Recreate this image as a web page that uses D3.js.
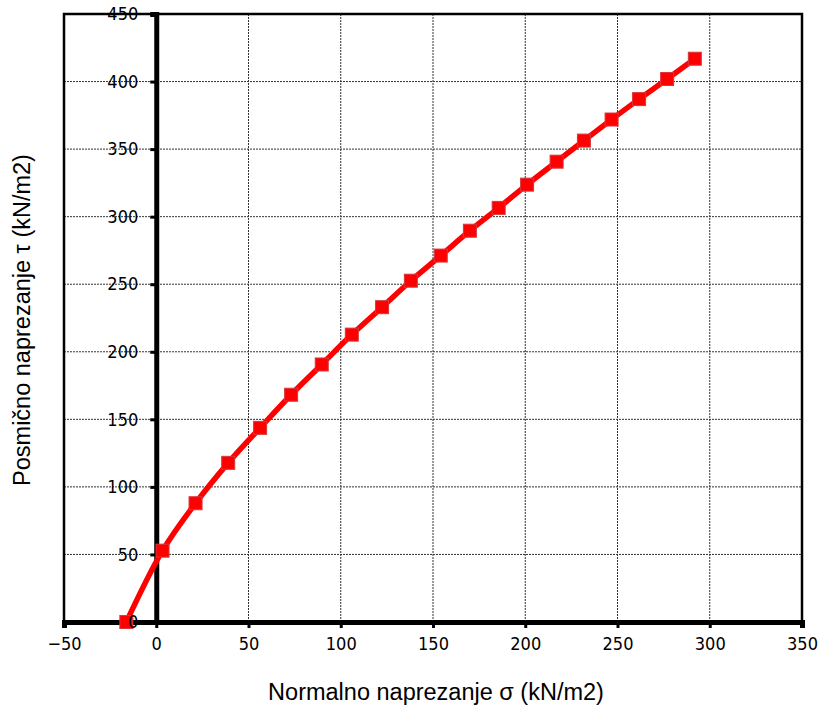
<!DOCTYPE html>
<html>
<head>
<meta charset="utf-8">
<script src="https://cdn.jsdelivr.net/npm/d3@7"></script>
<style>
  body { margin: 0; background: #fff; }
  svg { display: block; }
  .tk text { font-family: "DejaVu Sans Condensed", "DejaVu Sans", sans-serif; font-size: 18px; font-stretch: condensed; fill: #000; }
</style>
</head>
<body>
<svg id="chart" width="818" height="711"></svg>
<script>
// normal stress (kN/m2) vs shear stress (kN/m2)
const sigma = [-16.2, 3.4, 21.3, 39, 56.3, 73.1, 89.7, 106, 122.4, 138, 154.2, 170, 185.6, 201, 217, 231.8, 246.8, 261.7, 276.9, 291.9];
const tau = [0, 52.8, 87.9, 117.8, 143.7, 168.2, 190.6, 212.7, 233, 252.6, 271.2, 289.6, 306.5, 323.7, 340.7, 356.3, 371.9, 387, 401.9, 416.9];
const xTicks = [-50, 0, 50, 100, 150, 200, 250, 300, 350];
const yTicks = [0, 50, 100, 150, 200, 250, 300, 350, 400, 450];

function drawChart(){
    const svg = d3.select('#chart'),
    margin = {top: 14, right: 16, bottom: 89, left: 64},
    width = +svg.attr('width') - margin.left - margin.right,
    height = +svg.attr('height') - margin.top - margin.bottom;

    const x = d3.scaleLinear().domain([-50, 350]).range([0, width]);
    const y = d3.scaleLinear().domain([0, 450]).range([height, 0]);

    const g = svg.append('g')
    .attr('transform', `translate(${margin.left}, ${margin.top})`);

    // dotted grid
    g.append('g')
    .selectAll('line')
    .data(xTicks.filter(d => d !== -50 && d !== 0 && d !== 350))
    .enter()
    .append('line')
    .attr('x1', d => x(d)).attr('x2', d => x(d))
    .attr('y1', 0).attr('y2', height)
    .attr('stroke', '#333')
    .attr('stroke-width', 1)
    .attr('stroke-dasharray', '2,1');

    g.append('g')
    .selectAll('line')
    .data(yTicks.filter(d => d !== 0 && d !== 450))
    .enter()
    .append('line')
    .attr('x1', 0).attr('x2', width)
    .attr('y1', d => y(d)).attr('y2', d => y(d))
    .attr('stroke', '#333')
    .attr('stroke-width', 1)
    .attr('stroke-dasharray', '2,1');

    // frame
    g.append('rect')
    .attr('x', 0).attr('y', 0)
    .attr('width', width).attr('height', height)
    .attr('fill', 'none')
    .attr('stroke', '#000')
    .attr('stroke-width', 2.5);

    // x axis at y = 0
    const xAxis = g.append('g')
    .attr('class', 'tk')
    .attr('transform', `translate(0, ${y(0)})`)
    .call(d3.axisBottom(x).tickValues(xTicks).tickSize(6).tickPadding(9).tickFormat(d3.format('d')));
    xAxis.select('.domain').attr('stroke-width', 5);
    xAxis.selectAll('.tick line').attr('stroke-width', 3);

    // y axis at x = 0 (line and ticks; labels go on top later)
    const yAxis = g.append('g')
    .attr('transform', `translate(${x(0)}, 0)`)
    .call(d3.axisLeft(y).tickValues(yTicks).tickSize(6).tickFormat(''));
    yAxis.select('.domain').attr('stroke-width', 5);
    yAxis.selectAll('.tick line').attr('stroke-width', 3);

    // the data line
    const pts = sigma.map((s, i) => [s, tau[i]]);
    g.append('path')
    .datum(pts)
    .attr('fill', 'none')
    .attr('stroke', '#ff0000')
    .attr('stroke-width', 5.5)
    .attr('stroke-linejoin', 'round')
    .attr('d', d3.line().curve(d3.curveCatmullRom).x(d => x(d[0])).y(d => y(d[1])));

    g.append('g')
    .selectAll('rect')
    .data(pts)
    .enter()
    .append('rect')
    .attr('x', d => x(d[0]) - 6.5)
    .attr('y', d => y(d[1]) - 6.5)
    .attr('width', 13).attr('height', 13)
    .attr('fill', '#ff0000')
    .attr('stroke', '#d9363e')
    .attr('stroke-width', 1);

    // y tick labels drawn over the markers
    const yLabels = g.append('g')
    .attr('class', 'tk')
    .attr('transform', `translate(${x(0)}, 0)`)
    .call(d3.axisLeft(y).tickValues(yTicks).tickSize(0).tickPadding(18).tickFormat(d3.format('d')));
    yLabels.select('.domain').remove();

    // axis titles
    svg.append('text')
    .attr('x', 436)
    .attr('y', 700)
    .attr('text-anchor', 'middle')
    .style('font-family', '"Liberation Sans", Arial, sans-serif')
    .style('font-size', '23.5px')
    .text('Normalno naprezanje σ (kN/m2)');

    svg.append('text')
    .attr('transform', 'translate(30, 320) rotate(-90)')
    .attr('text-anchor', 'middle')
    .style('font-family', '"Liberation Sans", Arial, sans-serif')
    .style('font-size', '23.5px')
    .text('Posmično naprezanje τ (kN/m2)');
}

drawChart();
</script>
</body>
</html>
